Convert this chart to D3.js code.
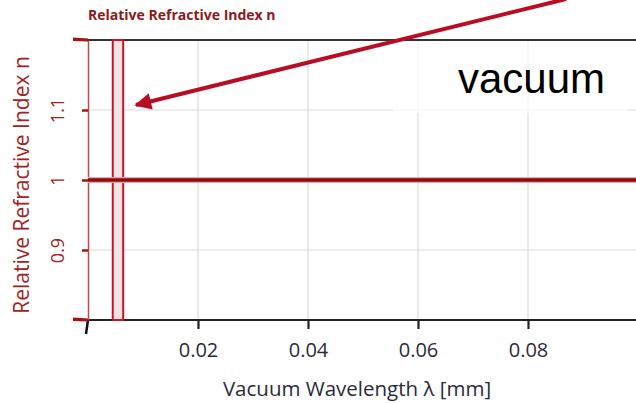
<!DOCTYPE html>
<html>
<head>
<meta charset="utf-8">
<script src="https://cdn.jsdelivr.net/npm/d3@7"></script>
<style>
  body { margin: 0; background: #fff; }
  svg { display: block; }
</style>
</head>
<body>
<div id="graph"></div>
<script>
const width = 636;
const height = 403;

// data
const wavelengths = [0, 0.1];          // mm
const indexValues = [1, 1];            // relative refractive index n
const bandRange = [0.0045, 0.0064];    // highlighted wavelength band
const xTicks = [0.02, 0.04, 0.06, 0.08];
const yTicks = [0.9, 1, 1.1];
const yEnds = [0.8, 1.2];
const labelText = "vacuum";
const chartTitle = "Relative Refractive Index n";
const xTitle = "Vacuum Wavelength λ [mm]";
const yTitle = "Relative Refractive Index n";

const plotLeft = 88, plotRight = 638, plotTop = 40, plotBottom = 320;

const x = d3.scaleLinear().domain([0, 0.1]).range([plotLeft, plotRight]);
const y = d3.scaleLinear().domain(yEnds).range([plotBottom, plotTop]);

const svg = d3.select("#graph")
  .append("svg")
    .attr("width", width)
    .attr("height", height);

const red = "#a31515";
const font = "'Open Sans', 'Noto Sans', sans-serif";

// title
svg.append("text")
  .attr("x", plotLeft)
  .attr("y", 20)
  .attr("font-family", font)
  .attr("font-weight", "bold")
  .attr("font-size", 14)
  .attr("fill", "#8b1a1a")
  .text(chartTitle);

// grid
svg.append("g")
  .selectAll("line")
  .data(xTicks)
  .join("line")
    .attr("x1", d => x(d)).attr("x2", d => x(d))
    .attr("y1", plotTop).attr("y2", plotBottom)
    .attr("stroke", "#dcdcdc")
    .attr("stroke-width", 1.2);

svg.append("g")
  .selectAll("line")
  .data(yTicks.filter(d => d !== 1))
  .join("line")
    .attr("x1", plotLeft).attr("x2", width)
    .attr("y1", d => y(d)).attr("y2", d => y(d))
    .attr("stroke", "#dcdcdc")
    .attr("stroke-width", 1.2);

// x axis
const xAxis = svg.append("g")
  .attr("transform", `translate(0,${plotBottom})`)
  .call(d3.axisBottom(x).tickValues(xTicks).tickSize(9).tickSizeOuter(0).tickPadding(0)
    .tickFormat(d3.format(".2f")));
xAxis.select(".domain").attr("stroke", "#222").attr("stroke-width", 2)
  .attr("d", `M${plotLeft},0H${width}`);
xAxis.selectAll(".tick line").attr("stroke", "#222").attr("stroke-width", 2.2);
xAxis.selectAll(".tick text")
  .attr("font-family", font).attr("font-size", 20).attr("fill", "#2b2b3a")
  .attr("y", 37).attr("dy", 0);
xAxis.append("path")
  .attr("d", `M${plotLeft},0L${plotLeft - 2},14`)
  .attr("stroke", "#111").attr("stroke-width", 2.5);

// top border
svg.append("line")
  .attr("x1", plotLeft).attr("x2", width)
  .attr("y1", plotTop).attr("y2", plotTop)
  .attr("stroke", "#333").attr("stroke-width", 2);

// y axis
const yAxis = svg.append("g")
  .attr("transform", `translate(${plotLeft},0)`)
  .call(d3.axisLeft(y).tickValues(yTicks).tickSize(6).tickSizeOuter(0).tickPadding(0)
    .tickFormat(d => String(d)));
yAxis.select(".domain").attr("stroke", "#c04848").attr("stroke-width", 1.5);
yAxis.selectAll(".tick line").attr("stroke", red).attr("stroke-width", 2.5);
yAxis.selectAll(".tick text")
  .attr("font-family", font).attr("font-size", 18).attr("fill", "#a02424")
  .attr("text-anchor", "middle")
  .attr("transform", "translate(-30,0) rotate(-90)")
  .attr("dy", "0.35em")
  .attr("x", 0);
yAxis.selectAll("path.end")
  .data(yEnds)
  .join("path")
    .attr("class", "end")
    .attr("d", d => `M0,${y(d) - 1.5}L-15,${y(d) - 2.5}L-15,${y(d) + 1}L0,${y(d) + 1.5}Z`)
    .attr("fill", red);

// y axis title
svg.append("text")
  .attr("transform", `translate(29,${(plotTop + plotBottom) / 2 + 5}) rotate(-90)`)
  .attr("text-anchor", "middle")
  .attr("font-family", font)
  .attr("font-size", 21)
  .attr("fill", "#a02424")
  .text(yTitle);

// x axis title
svg.append("text")
  .attr("x", 357)
  .attr("y", 396)
  .attr("text-anchor", "middle")
  .attr("font-family", font)
  .attr("font-size", 20.5)
  .attr("fill", "#2b2b3a")
  .text(xTitle);

// band
svg.append("rect")
  .attr("x", x(bandRange[0]))
  .attr("y", y(yEnds[1]))
  .attr("width", x(bandRange[1]) - x(bandRange[0]))
  .attr("height", y(yEnds[0]) - y(yEnds[1]))
  .attr("fill", "#f8e1e3")
  .attr("stroke", "#c0182a")
  .attr("stroke-width", 2);

// index line
const line = d3.line()
  .x((d, i) => x(wavelengths[i]))
  .y(d => y(d));
svg.append("path")
  .datum(indexValues)
  .attr("fill", "none")
  .attr("stroke", "#e0a8a8")
  .attr("stroke-width", 6)
  .attr("d", line);
svg.append("path")
  .datum(indexValues)
  .attr("fill", "none")
  .attr("stroke", "#8f0b0b")
  .attr("stroke-width", 3.4)
  .attr("d", line);

// label box
svg.append("rect")
  .attr("x", 393).attr("y", 42)
  .attr("width", 234).attr("height", 71)
  .attr("fill", "#fff").attr("fill-opacity", 0.75);

svg.append("text")
  .attr("x", 458)
  .attr("y", 93)
  .attr("font-family", "'Liberation Sans', Arial, sans-serif")
  .attr("font-size", 42)
  .attr("fill", "#000")
  .text(labelText);

// arrow
const arrowColor = "#b80d22";
svg.append("defs").append("marker")
  .attr("id", "head")
  .attr("viewBox", "0 0 10 10")
  .attr("refX", 9).attr("refY", 5)
  .attr("markerWidth", 5.5).attr("markerHeight", 4.2)
  .attr("markerUnits", "strokeWidth")
  .attr("orient", "auto")
  .append("path")
    .attr("d", "M0,0L10,5L0,10Z")
    .attr("fill", arrowColor);

svg.append("line")
  .attr("x1", 566).attr("y1", -1)
  .attr("x2", 136).attr("y2", 105)
  .attr("stroke", arrowColor)
  .attr("stroke-width", 4)
  .attr("marker-end", "url(#head)");
</script>
</body>
</html>
